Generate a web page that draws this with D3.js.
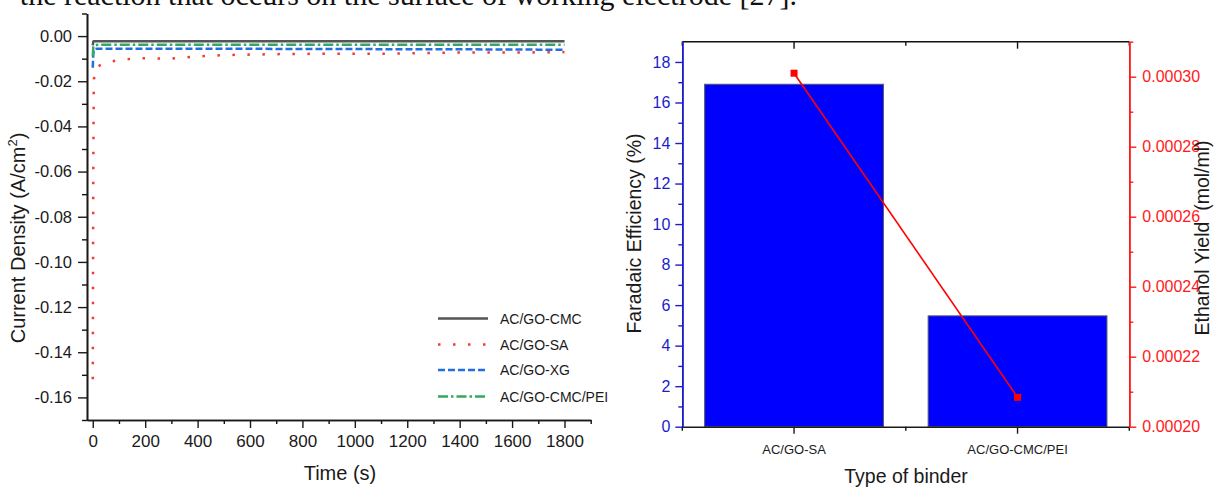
<!DOCTYPE html>
<html><head><meta charset="utf-8">
<script src="https://cdn.jsdelivr.net/npm/d3@7"></script>
<style>body{margin:0;background:#fff}svg{display:block;font-family:"Liberation Sans",Arial,sans-serif}</style>
</head><body><svg id="c" width="1215" height="487"></svg>
<script>
// ---- Left chart data (chronoamperometry) ----
const times   = [0, 2, 4, 8, 15, 30, 50, 75, 100, 150, 200, 250, 300, 400, 500, 600, 700, 800, 900, 1000, 1100, 1200, 1300, 1400, 1500, 1600, 1700, 1800];
const cmc     = [-0.0041, -0.0024, -0.0023, -0.0023, -0.0023, -0.0023, -0.0023, -0.0023, -0.0023, -0.0023, -0.0023, -0.0023, -0.0023, -0.0023, -0.0023, -0.0023, -0.0023, -0.0023, -0.0023, -0.0023, -0.0023, -0.0023, -0.0023, -0.0023, -0.0023, -0.0023, -0.0023, -0.0023];
const sa      = [-0.152, -0.060, -0.020, -0.0150, -0.0137, -0.0128, -0.0121, -0.0112, -0.0106, -0.0100, -0.0098, -0.0099, -0.0100, -0.0090, -0.0084, -0.0082, -0.0080, -0.0079, -0.0078, -0.0078, -0.0078, -0.0077, -0.0074, -0.0073, -0.0073, -0.0073, -0.0072, -0.0071];
const xg      = [-0.0140, -0.0080, -0.0060, -0.0057, -0.0056, -0.0056, -0.0056, -0.0056, -0.0056, -0.0056, -0.0056, -0.0056, -0.0056, -0.0056, -0.0056, -0.0056, -0.0057, -0.0057, -0.0057, -0.0057, -0.0058, -0.0058, -0.0058, -0.0058, -0.0059, -0.0059, -0.0060, -0.0060];
const cmcPei  = [-0.0090, -0.0050, -0.0042, -0.0040, -0.0039, -0.0038, -0.0038, -0.0038, -0.0038, -0.0038, -0.0038, -0.0038, -0.0038, -0.0038, -0.0038, -0.0038, -0.0038, -0.0038, -0.0038, -0.0038, -0.0038, -0.0038, -0.0038, -0.0038, -0.0038, -0.0038, -0.0038, -0.0038];
const seriesNames = ["AC/GO-CMC", "AC/GO-SA", "AC/GO-XG", "AC/GO-CMC/PEI"];
const xTicks = [0, 200, 400, 600, 800, 1000, 1200, 1400, 1600, 1800];
const yTicks = [-0.16, -0.14, -0.12, -0.10, -0.08, -0.06, -0.04, -0.02, 0.00];

// ---- Right chart data ----
const binders   = ["AC/GO-SA", "AC/GO-CMC/PEI"];
const faradaic  = [16.9, 5.47];
const ethanol   = [0.000301, 0.0002084];
const feTicks   = [0, 2, 4, 6, 8, 10, 12, 14, 16, 18];
const etTicks   = [0.00020, 0.00022, 0.00024, 0.00026, 0.00028, 0.00030];

const svg = d3.select("#c");
svg.append("rect").attr("width",1215).attr("height",487).attr("fill","#fff");

// paragraph text cut at top
svg.append("text").attr("x",797).attr("y",5).attr("text-anchor","end")
  .attr("font-family","'Liberation Serif','Times New Roman',serif").attr("font-size",30).attr("fill","#111")
  .text("the reaction that occurs on the surface of working electrode [27].");

// ================= LEFT CHART =================
const x = d3.scaleLinear().domain([-22, 1900]).range([87, 590.7]);
const y = d3.scaleLinear().domain([-0.17, 0.01]).range([420, 13.5]);
const L = svg.append("g");

function styleAxis(g, color, fs){
  g.select(".domain").attr("stroke", color).attr("stroke-width",1.6);
  g.selectAll(".tick line").attr("stroke", color).attr("stroke-width",1.4);
  g.selectAll(".tick text").attr("fill", color).attr("font-size", fs).attr("font-family","'Liberation Sans',Arial,sans-serif");
}
// minor ticks
const yMinor = d3.range(-0.17, 0.0101, 0.01).filter(v => Math.abs(Math.round(v*100)) % 2 === 1);
L.append("g").attr("transform","translate(87,0)")
  .call(d3.axisLeft(y).tickValues(yMinor).tickSize(5).tickSizeOuter(0).tickFormat(""))
  .call(g=>styleAxis(g,"#111",0));
const xMinor = d3.range(100, 1901, 200);
L.append("g").attr("transform","translate(0,420)")
  .call(d3.axisBottom(x).tickValues(xMinor).tickSize(4).tickSizeOuter(0).tickFormat(""))
  .call(g=>styleAxis(g,"#111",0));
L.append("g").attr("transform","translate(87,0)")
  .call(d3.axisLeft(y).tickValues(yTicks).tickSize(9).tickPadding(6).tickSizeOuter(0).tickFormat(d=>d.toFixed(2)))
  .call(g=>styleAxis(g,"#1a1a1a",16.5));
L.append("g").attr("transform","translate(0,420)")
  .call(d3.axisBottom(x).tickValues(xTicks).tickSize(8).tickPadding(7).tickSizeOuter(0).tickFormat(d3.format("d")))
  .call(g=>styleAxis(g,"#1a1a1a",17));

const styles = [
  {vals: cmc,    color:"#555555", dash:null},
  {vals: sa,     color:"#f23a3a", dash:"2.5,12.5"},
  {vals: xg,     color:"#1f6fe3", dash:"7,3"},
  {vals: cmcPei, color:"#33a862", dash:"10,3,2.5,3"}
];
const line = d3.line().x(d=>x(d[0])).y(d=>y(d[1]));
[1,2,3,0].forEach(i=>{
  const s = styles[i];
  L.append("path").datum(times.map((t,k)=>[t, s.vals[k]]))
    .attr("d", line).attr("fill","none").attr("stroke", s.color).attr("stroke-width",2.5)
    .attr("stroke-dasharray", s.dash);
});
// legend
const legRows = [318.5, 344.5, 370, 396.5];
seriesNames.forEach((n,i)=>{
  const s = styles[i];
  L.append("line").attr("x1",438).attr("x2",488).attr("y1",legRows[i]).attr("y2",legRows[i])
    .attr("stroke",s.color).attr("stroke-width",2.5).attr("stroke-dasharray",s.dash);
  L.append("text").attr("x",500).attr("y",legRows[i]).attr("dy","0.36em")
    .attr("font-size",14).attr("fill","#1a1a1a").text(n);
});
// titles
const yt = L.append("text").attr("transform","translate(25,238) rotate(-90)").attr("text-anchor","middle")
  .attr("font-size",20).attr("fill","#1a1a1a");
yt.append("tspan").text("Current Density (A/cm");
yt.append("tspan").attr("font-size",13).attr("dy",-8).text("2");
yt.append("tspan").attr("dy",8).text(")");
L.append("text").attr("x",340).attr("y",479.5).attr("text-anchor","middle").attr("font-size",20)
  .attr("fill","#1a1a1a").text("Time (s)");

// ================= RIGHT CHART =================
const R = svg.append("g");
const bx = d3.scaleBand().domain(binders).range([682.3, 1129.3]).paddingInner(0.2).paddingOuter(0.1);
const yl = d3.scaleLinear().domain([0, 19]).range([426.7, 41.7]);
const yr = d3.scaleLinear().domain([0.0002, 0.00031]).range([426.7, 41.7]);

// bars
R.selectAll("rect.bar").data(binders).enter().append("rect").attr("class","bar")
  .attr("x", d=>bx(d)).attr("width", bx.bandwidth())
  .attr("y", (d,i)=>yl(faradaic[i])).attr("height",(d,i)=>yl(0)-yl(faradaic[i]))
  .attr("fill","#0000ff").attr("stroke","#5a5a5a").attr("stroke-width",1);

const catCenters = binders.map(b=>bx(b)+bx.bandwidth()/2);
const catMinor = [682.3, (catCenters[0]+catCenters[1])/2, 1129.3];
// top frame
R.append("line").attr("x1",682.3).attr("x2",1129.3).attr("y1",41.7).attr("y2",41.7).attr("stroke","#111").attr("stroke-width",1.6);
R.selectAll("line.tt").data(catCenters).enter().append("line").attr("x1",d=>d).attr("x2",d=>d)
  .attr("y1",41.7).attr("y2",48.7).attr("stroke","#111").attr("stroke-width",1.4);
R.selectAll("line.tm").data(catMinor).enter().append("line").attr("x1",d=>d).attr("x2",d=>d)
  .attr("y1",41.7).attr("y2",45.7).attr("stroke","#111").attr("stroke-width",1.4);
// bottom axis
R.append("g").attr("transform","translate(0,426.7)")
  .call(d3.axisBottom(bx).tickSize(7).tickPadding(11).tickSizeOuter(0))
  .call(g=>styleAxis(g,"#1a1a1a",13));
R.selectAll("line.bm").data(catMinor).enter().append("line").attr("x1",d=>d).attr("x2",d=>d)
  .attr("y1",426.7).attr("y2",430.7).attr("stroke","#111").attr("stroke-width",1.4);
// left blue axis
const feMinor = d3.range(1, 19, 2);
R.append("g").attr("transform","translate(682.3,0)")
  .call(d3.axisLeft(yl).tickValues(feMinor).tickSize(4).tickSizeOuter(0).tickFormat(""))
  .call(g=>styleAxis(g,"#1c1cc8",0));
R.append("g").attr("transform","translate(682.3,0)")
  .call(d3.axisLeft(yl).tickValues(feTicks).tickSize(7).tickPadding(5).tickSizeOuter(0).tickFormat(d3.format("d")))
  .call(g=>styleAxis(g,"#1c1cc8",16));
// right red axis
const etMinor = [0.00021, 0.00023, 0.00025, 0.00027, 0.00029, 0.00031];
R.append("g").attr("transform","translate(1129.3,0)")
  .call(d3.axisRight(yr).tickValues(etMinor).tickSize(4).tickSizeOuter(0).tickFormat(""))
  .call(g=>styleAxis(g,"#ff1a1a",0));
R.append("g").attr("transform","translate(1129.3,0)")
  .call(d3.axisRight(yr).tickValues(etTicks).tickSize(7).tickPadding(6).tickSizeOuter(0).tickFormat(d=>d.toFixed(5)))
  .call(g=>styleAxis(g,"#ff1a1a",16));

// ethanol line
const eline = d3.line().x((d,i)=>catCenters[i]).y(d=>yr(d));
R.append("path").datum(ethanol).attr("d",eline).attr("fill","none").attr("stroke","#ff0000").attr("stroke-width",1.6);
R.selectAll("rect.m").data(ethanol).enter().append("rect")
  .attr("x",(d,i)=>catCenters[i]-3.5).attr("y",d=>yr(d)-3.5).attr("width",7).attr("height",7).attr("fill","#ff0000");

// titles
R.append("text").attr("transform","translate(641,233.5) rotate(-90)").attr("text-anchor","middle")
  .attr("font-size",19.5).attr("fill","#1a1a1a").text("Faradaic Efficiency (%)");
R.append("text").attr("transform","translate(1209,238) rotate(-90)").attr("text-anchor","middle")
  .attr("font-size",19.5).attr("fill","#1a1a1a").style("white-space","pre")
  .text("Ethanol Yield  (mol/ml)");
R.append("text").attr("x",906).attr("y",483).attr("text-anchor","middle").attr("font-size",19.5)
  .attr("fill","#1a1a1a").text("Type of binder");
</script></body></html>
